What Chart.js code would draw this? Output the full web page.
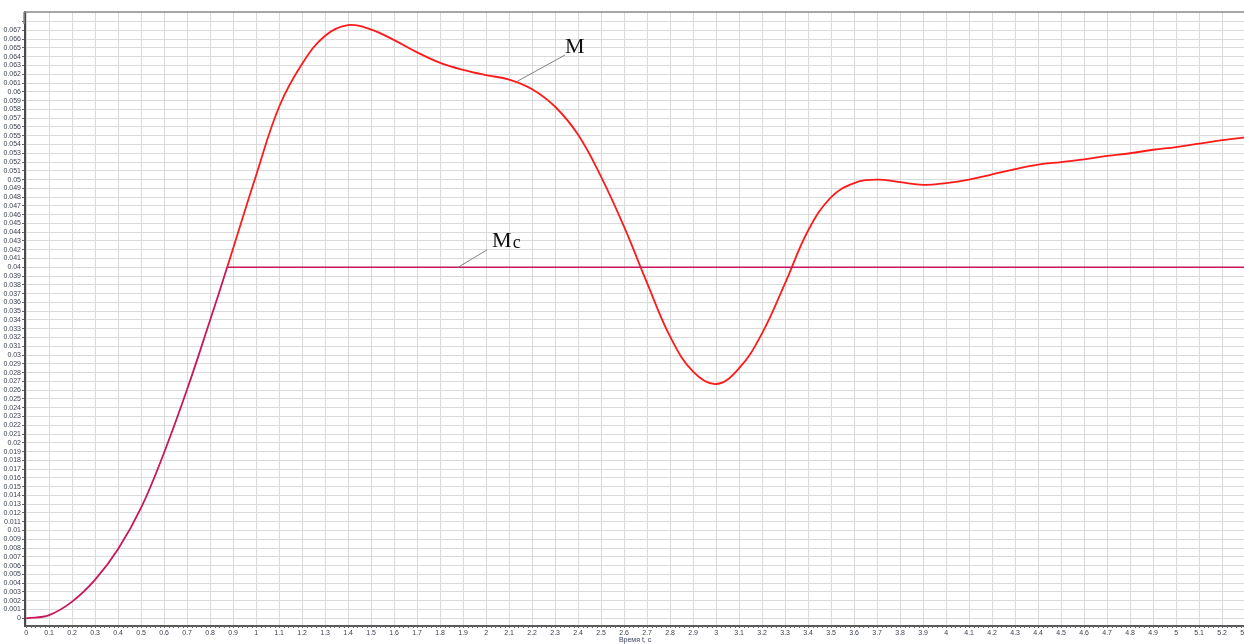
<!DOCTYPE html>
<html>
<head>
<meta charset="utf-8">
<script src="https://cdn.jsdelivr.net/npm/chart.js@4/dist/chart.umd.min.js"></script>
<style>
    html, body { margin: 0; padding: 0; background: #ffffff; overflow: hidden; }
    #chart { display: block; }
</style>
</head>
<body>
<canvas id="chart" width="1251" height="644"></canvas>
<script>
// Time axis (s) and torque M
const timeValues = [0, 0.1, 0.2, 0.3, 0.4, 0.5, 0.6, 0.7, 0.8, 0.874,
    1.0, 1.1, 1.2, 1.3, 1.4, 1.5, 1.6, 1.7, 1.8, 1.9,
    2.0, 2.1, 2.2, 2.3, 2.4, 2.5, 2.6, 2.7, 2.8, 2.9,
    3.0, 3.1, 3.2, 3.3, 3.4, 3.5, 3.6, 3.7, 3.8, 3.9,
    4.0, 4.1, 4.2, 4.3, 4.4, 4.5, 4.6, 4.7, 4.8, 4.9,
    5.0, 5.1, 5.2, 5.3];
const mValues = [0, 0.00037, 0.0019, 0.0044, 0.0079, 0.0126, 0.0189, 0.0261, 0.034, 0.04,
    0.0505, 0.0583, 0.0632, 0.0664, 0.0676, 0.0671, 0.0659, 0.0645, 0.0633, 0.0625,
    0.0619, 0.0614, 0.0603, 0.0583, 0.0551, 0.0503, 0.0446, 0.0382, 0.0321, 0.0281,
    0.0267, 0.0285, 0.0325, 0.0382, 0.0442, 0.048, 0.0496, 0.05, 0.0497, 0.0494,
    0.0496, 0.05, 0.0506, 0.0512, 0.0517, 0.052, 0.0523, 0.0527, 0.053, 0.0534,
    0.0537, 0.0541, 0.0545, 0.0548];

// Load torque Mc (follows M until it reaches 0.04, then stays flat)
const mcTimes = [0.874, 5.3];
const mcValues = [0.04, 0.04];

// Tick settings
const xTickStep = 0.1;
const xTickMax = 5.3;
const yTickStep = 0.001;
const yTickMax = 0.068;
const yLabelMax = 0.067;

const mColor = '#ff1a1a';
const mcColor = '#c8175c';
const labelColor = '#3b4352';

// Leader labels: text, line from -> to (data coords), text position (data coords)
const curveLabels = [
    { main: 'M', sub: '', from: [2.135, 0.0612], to: [2.343, 0.0642], at: [2.343, 0.0644] },
    { main: 'M', sub: 'c', from: [1.878, 0.0400], to: [2.004, 0.0420], at: [2.026, 0.0423] }
];

function buildTicks(max, step) {
    const ticks = [];
    const n = Math.round(max / step);
    for (let i = 0; i <= n; i++) {
        ticks.push({ value: Number((i * step).toFixed(4)) });
    }
    return ticks;
}

// Frame, minor ticks and leader labels
const decorPlugin = {
    id: 'decor',
    afterDraw(chart) {
        const ctx = chart.ctx;
        const area = chart.chartArea;
        const xs = chart.scales.x;
        const ys = chart.scales.y;
        ctx.save();

        // top frame line
        ctx.strokeStyle = '#8a8a8a';
        ctx.lineWidth = 1.5;
        ctx.beginPath();
        ctx.moveTo(area.left - 1, area.top);
        ctx.lineTo(area.right, area.top);
        ctx.moveTo(area.left - 1, area.top);
        ctx.lineTo(area.left - 1, area.top + 12);
        ctx.stroke();

        // minor ticks on time axis
        ctx.strokeStyle = '#666';
        ctx.lineWidth = 1;
        ctx.beginPath();
        const nMinor = Math.round(xTickMax / 0.02);
        for (let i = 0; i <= nMinor; i++) {
            const px = Math.round(xs.getPixelForValue(i * 0.02)) + 0.5;
            ctx.moveTo(px, area.bottom);
            ctx.lineTo(px, area.bottom + 2);
        }
        ctx.stroke();

        // leader lines and labels
        curveLabels.forEach(lbl => {
            ctx.strokeStyle = '#808080';
            ctx.lineWidth = 1;
            ctx.beginPath();
            ctx.moveTo(xs.getPixelForValue(lbl.from[0]), ys.getPixelForValue(lbl.from[1]));
            ctx.lineTo(xs.getPixelForValue(lbl.to[0]), ys.getPixelForValue(lbl.to[1]));
            ctx.stroke();

            const tx = xs.getPixelForValue(lbl.at[0]);
            const ty = ys.getPixelForValue(lbl.at[1]);
            ctx.fillStyle = '#111';
            ctx.textBaseline = 'alphabetic';
            ctx.textAlign = 'left';
            ctx.font = '22px "Liberation Serif", "DejaVu Serif", serif';
            ctx.fillText(lbl.main, tx, ty);
            if (lbl.sub) {
                const w = ctx.measureText(lbl.main).width;
                ctx.font = '18px "Liberation Serif", "DejaVu Serif", serif';
                ctx.fillText(lbl.sub, tx + w + 1, ty + 1);
            }
        });
        ctx.restore();
    }
};

const mPoints = timeValues.map((t, i) => ({ x: t, y: mValues[i] }));
const mcPoints = mcTimes.map((t, i) => ({ x: t, y: mcValues[i] }));

new Chart(document.getElementById('chart'), {
    type: 'line',
    data: {
        datasets: [
            {
                label: 'Mc',
                data: mcPoints,
                borderColor: mcColor,
                borderWidth: 1.6,
                tension: 0,
                pointRadius: 0
            },
            {
                label: 'M',
                data: mPoints,
                borderColor: mColor,
                borderWidth: 1.8,
                tension: 0.4,
                pointRadius: 0,
                segment: {
                    // below the point where Mc leaves M both curves coincide, Mc is drawn on top
                    borderColor: c => c.p1.parsed.x <= mcTimes[0] + 1e-6 ? mcColor : mColor
                }
            }
        ]
    },
    options: {
        responsive: false,
        animation: false,
        devicePixelRatio: 1,
        layout: { padding: { top: 12, left: 0, right: 0, bottom: 0 } },
        plugins: {
            legend: { display: false },
            tooltip: { enabled: false }
        },
        scales: {
            x: {
                type: 'linear',
                min: -0.005,
                max: xTickMax,
                afterBuildTicks: s => { s.ticks = buildTicks(xTickMax, xTickStep); },
                afterFit: s => { s.height = 18; },
                ticks: {
                    autoSkip: false,
                    maxRotation: 0,
                    padding: 1,
                    color: labelColor,
                    font: { family: '"Liberation Sans", Arial, sans-serif', size: 7 },
                    callback: v => String(Number(v.toFixed(1)))
                },
                grid: { color: '#dadada', lineWidth: 1, tickLength: 2, tickColor: '#666' },
                border: { color: '#5a5a5a', width: 2 },
                title: {
                    display: true,
                    text: 'Время t, c',
                    color: '#3b4360',
                    padding: 0,
                    font: { family: '"Liberation Sans", Arial, sans-serif', size: 7 }
                }
            },
            y: {
                type: 'linear',
                min: -0.00088,
                max: 0.0691,
                afterBuildTicks: s => { s.ticks = buildTicks(yTickMax, yTickStep); },
                afterFit: s => { s.width = 25; },
                ticks: {
                    autoSkip: false,
                    padding: 1,
                    color: labelColor,
                    font: { family: '"Liberation Sans", Arial, sans-serif', size: 7 },
                    callback: v => v > yLabelMax + 0.0001 ? '' : String(Number(v.toFixed(3)))
                },
                grid: { color: '#dadada', lineWidth: 1, tickLength: 3, tickColor: '#666' },
                border: { color: '#4a4a4a', width: 2 }
            }
        }
    },
    plugins: [decorPlugin]
});
</script>
</body>
</html>
